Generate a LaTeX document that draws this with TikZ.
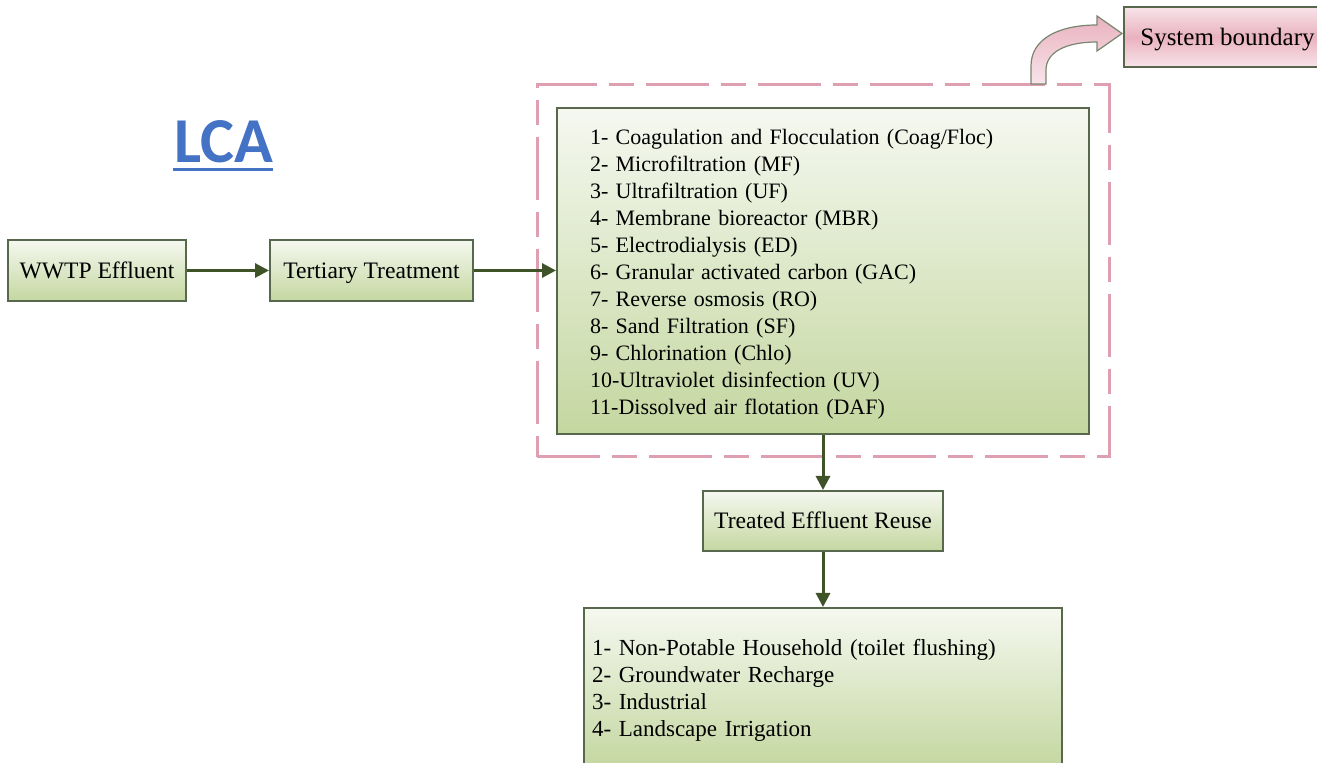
\documentclass[tikz,border=0pt]{standalone}
\usepackage{fontspec}
\setmainfont{Liberation Serif}
\newfontfamily\lcafont{Carlito}
\usetikzlibrary{arrows.meta}
\definecolor{boxline}{RGB}{88,104,76}
\definecolor{greentop}{RGB}{245,248,240}
\definecolor{greenbot}{RGB}{196,215,160}
\definecolor{flowcol}{RGB}{62,84,40}
\definecolor{pinkline}{RGB}{222,160,176}
\definecolor{pinktop}{RGB}{248,228,233}
\definecolor{pinkmid}{RGB}{233,178,192}
\definecolor{lcablue}{RGB}{68,114,196}
\tikzset{
  gbox/.style={draw=boxline, line width=1pt, top color=greentop, bottom color=greenbot,
    font=\fontsize{11.8}{13.5}\selectfont, inner sep=0pt, text height=8pt, text depth=0pt},
  listbox/.style={draw=boxline, line width=1pt, top color=greentop, bottom color=greenbot,
    inner sep=0pt, align=left},
  flow/.style={draw=flowcol, line width=1.5pt, -{Triangle[length=7pt,width=7pt]}},
  bound/.style={draw=pinkline, line width=1.5pt, dash pattern=on 31.5pt off 6pt on 12.5pt off 6pt},
  pinkbox/.style={draw=boxline, line width=1pt, top color=pinktop, bottom color=pinktop, middle color=pinkmid,
    font=\fontsize{12.5}{14}\selectfont, inner sep=0pt, text height=8.5pt, text depth=0pt},
}
\begin{document}
\begin{tikzpicture}[x=0.5pt,y=-0.5pt]
\useasboundingbox (0,0) rectangle (1317,763);
\clip (0,0) rectangle (1317,763);
\fill[white] (0,0) rectangle (1317,763);

% LCA title
\node[font=\lcafont\bfseries\fontsize{32}{36}\selectfont, text=lcablue, inner sep=0pt, anchor=base] (lca) at (224,163) {LCA};
\draw[lcablue, line width=1.5pt] (173,170) -- (273,170);

% boundary
\node[bound, minimum width=286pt, minimum height=186pt] (bnd) at (823,271) {};

% boxes
\node[gbox, minimum width=89pt, minimum height=30.5pt] (wwtp) at (97,270.5) {WWTP Effluent};
\node[gbox, minimum width=101.5pt, minimum height=30.5pt] (tert) at (371.5,270.5) {Tertiary Treatment};
\node[listbox, font=\fontsize{11}{13.5}\selectfont, inner xsep=16.5pt, minimum width=266pt, minimum height=163pt, text width=233pt] (proc) at (823,271) {%
\rule{0pt}{11.3pt}1- Coagulation and Flocculation (Coag/Floc)\\
2- Microfiltration (MF)\\
3- Ultrafiltration (UF)\\
4- Membrane bioreactor (MBR)\\
5- Electrodialysis (ED)\\
6- Granular activated carbon (GAC)\\
7- Reverse osmosis (RO)\\
8- Sand Filtration (SF)\\
9- Chlorination (Chlo)\\
10-Ultraviolet disinfection (UV)\\
11-Dissolved air flotation (DAF)};
\node[gbox, minimum width=120pt, minimum height=30pt] (reuse) at (823,521) {Treated Effluent Reuse};
\node[listbox, font=\fontsize{11.5}{13.5}\selectfont, inner xsep=4pt, minimum width=239pt, minimum height=80pt, text width=231pt] (uses) at (823,688) {%
\rule{0pt}{10.8pt}1- Non-Potable Household (toilet flushing)\\
2- Groundwater Recharge\\
3- Industrial\\
4- Landscape Irrigation};
\node[pinkbox, minimum width=103.5pt, minimum height=30pt, anchor=west] (sys) at (1123,37) {System boundary};

% fat curved arrow
\draw[draw=boxline!80, line width=0.6pt, top color=pinkmid, bottom color=pinktop]
  (1031,84) -- (1031,66) .. controls (1031,38) and (1060,25) .. (1097,25)
  -- (1097,16) -- (1122,33.5) -- (1097,51) -- (1097,42)
  .. controls (1066,42) and (1046,52) .. (1046,70) -- (1046,84) -- cycle;

% connectors
\draw[flow] (wwtp) -- (tert);
\draw[flow] (tert.east) -- (tert.east -| proc.west);
\draw[flow] (proc) -- (reuse);
\draw[flow] (reuse) -- (uses);
\end{tikzpicture}
\end{document}
